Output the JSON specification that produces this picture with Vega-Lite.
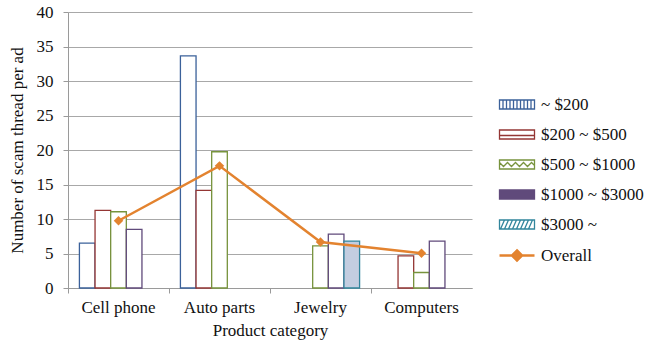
{
  "$schema": "https://vega.github.io/schema/vega-lite/v6.json",
  "width": 404,
  "height": 276,
  "autosize": "none",
  "padding": {"left": 68, "top": 12, "right": 175, "bottom": 60},
  "background": "white",
  "config": {
    "font": "'Liberation Serif', 'Times New Roman', serif",
    "view": {"stroke": null},
    "axis": {"labelFont": "'Liberation Serif', 'Times New Roman', serif", "titleFont": "'Liberation Serif', 'Times New Roman', serif", "labelFontSize": 17, "titleFontSize": 17, "labelColor": "#111", "titleColor": "#111", "titleFontWeight": "normal", "domainColor": "#9a9a9a", "tickColor": "#9a9a9a", "gridColor": "#a8a8a8"},
    "legend": {"labelFont": "'Liberation Serif', 'Times New Roman', serif", "labelFontSize": 17, "labelColor": "#111"}
  },
  "datasets": {
    "bars": [
      {"category": "Cell phone", "series": "~ $200", "value": 6.5},
      {"category": "Cell phone", "series": "$200 ~ $500", "value": 11.25},
      {"category": "Cell phone", "series": "$500 ~ $1000", "value": 11.05},
      {"category": "Cell phone", "series": "$1000 ~ $3000", "value": 8.5},
      {"category": "Auto parts", "series": "~ $200", "value": 33.65},
      {"category": "Auto parts", "series": "$200 ~ $500", "value": 14.15},
      {"category": "Auto parts", "series": "$500 ~ $1000", "value": 19.75},
      {"category": "Jewelry", "series": "$500 ~ $1000", "value": 6.1},
      {"category": "Jewelry", "series": "$1000 ~ $3000", "value": 7.8},
      {"category": "Jewelry", "series": "$3000 ~", "value": 6.8},
      {"category": "Computers", "series": "$200 ~ $500", "value": 4.65},
      {"category": "Computers", "series": "$500 ~ $1000", "value": 2.25},
      {"category": "Computers", "series": "$1000 ~ $3000", "value": 6.8}
    ],
    "overall": [
      {"category": "Cell phone", "series": "Overall", "value": 9.75},
      {"category": "Auto parts", "series": "Overall", "value": 17.7},
      {"category": "Jewelry", "series": "Overall", "value": 6.65},
      {"category": "Computers", "series": "Overall", "value": 5.05}
    ]
  },
  "encoding": {
    "x": {"field": "category", "type": "nominal", "sort": ["Cell phone", "Auto parts", "Jewelry", "Computers"],
      "scale": {"paddingInner": 0, "paddingOuter": 0},
      "axis": {"title": "Product category", "labelAngle": 0, "bandPosition": 0, "tickSize": 5, "labelPadding": 6, "titlePadding": 7, "grid": false}},
    "y": {"field": "value", "type": "quantitative",
      "scale": {"domain": [0, 40]},
      "axis": {"title": "Number of scam thread per ad", "values": [0,5,10,15,20,25,30,35,40], "tickSize": 5, "labelPadding": 10, "titlePadding": 10, "grid": true}}
  },
  "layer": [
    {
      "data": {"name": "bars"},
      "mark": {"type": "bar", "strokeWidth": 1.3},
      "encoding": {
        "xOffset": {"field": "series", "type": "nominal", "scale": {"domain": ["~ $200", "$200 ~ $500", "$500 ~ $1000", "$1000 ~ $3000", "$3000 ~"], "paddingInner": 0, "paddingOuter": 0.73}},
        "stroke": {"field": "series", "type": "nominal",
          "scale": {"domain": ["~ $200", "$200 ~ $500", "$500 ~ $1000", "$1000 ~ $3000", "$3000 ~", "Overall"], "range": ["#3b619a", "#943634", "#77933c", "#604a7b", "#31859c", "#e3832f"]},
          "legend": {"title": null, "orient": "none", "legendX": 433, "legendY": 84, "rowPadding": 12, "symbolSize": 400, "labelOffset": 23,
            "symbolType": {"expr": "datum.value === 'Overall' ? 'M-1,0H2.5M0.75,-0.5L1.25,0L0.75,0.5L0.25,0ZM0.75,-0.25L1,0L0.75,0.25L0.5,0Z' : datum.value === '~ $200' ? 'M-1,-0.45H2.5V0.45H-1ZM-0.65,-0.45V0.45M-0.3,-0.45V0.45M0.05,-0.45V0.45M0.4,-0.45V0.45M0.75,-0.45V0.45M1.1,-0.45V0.45M1.45,-0.45V0.45M1.8,-0.45V0.45M2.15,-0.45V0.45' : datum.value === '$200 ~ $500' ? 'M-1,-0.45H2.5V0.45H-1ZM-1,0.1H2.5' : datum.value === '$500 ~ $1000' ? 'M-1,-0.45H2.5V0.45H-1ZM-1,-0.2L-0.6,0.2L-0.2,-0.2L0.2,0.2L0.6,-0.2L1,0.2L1.4,-0.2L1.8,0.2L2.2,-0.2L2.5,0.1' : datum.value === '$1000 ~ $3000' ? 'M-1,-0.45H2.5V0.45H-1ZM-1,-0.3H2.5M-1,-0.15H2.5M-1,0H2.5M-1,0.15H2.5M-1,0.3H2.5M-0.6,-0.45V0.45M-0.2,-0.45V0.45M0.2,-0.45V0.45M0.6,-0.45V0.45M1,-0.45V0.45M1.4,-0.45V0.45M1.8,-0.45V0.45M2.2,-0.45V0.45' : 'M-1,-0.45H2.5V0.45H-1ZM-0.9,0.45L-0.5,-0.45M-0.5,0.45L-0.1,-0.45M-0.1,0.45L0.3,-0.45M0.3,0.45L0.7,-0.45M0.7,0.45L1.1,-0.45M1.1,0.45L1.5,-0.45M1.5,0.45L1.9,-0.45M1.9,0.45L2.3,-0.45'"},
            "symbolStrokeWidth": {"expr": "datum.value === 'Overall' ? 2.5 : 1.3"}
          }
        },
        "fill": {"condition": {"test": "datum.series === '$3000 ~'", "value": "#c3cde0"}, "value": "#ffffff"}
      }
    },
    {
      "data": {"name": "overall"},
      "mark": {"type": "line", "strokeWidth": 2.5, "color": "#e3832f"},
      "encoding": {}
    },
    {
      "data": {"name": "overall"},
      "mark": {"type": "point", "shape": "diamond", "filled": true, "size": 90, "color": "#e3832f", "opacity": 1},
      "encoding": {}
    }
  ]
}
